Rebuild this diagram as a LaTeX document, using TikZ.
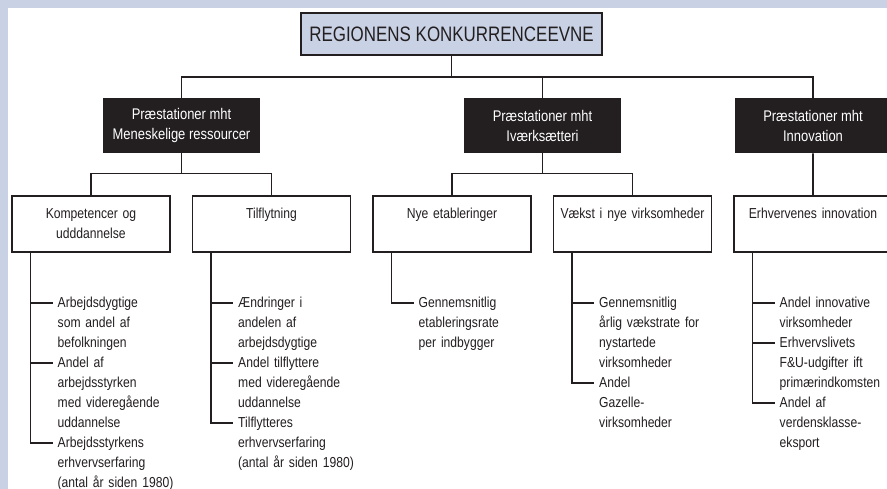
\documentclass[tikz,border=0pt]{standalone}
\usepackage{fontspec}
\setmainfont{Liberation Sans}[FakeStretch=0.84]
\newfontfamily\headfont{Liberation Sans}[FakeStretch=0.81]
\usepackage{xcolor}
\usetikzlibrary{positioning}

\definecolor{frameblue}{HTML}{C9D2E5}
\definecolor{inkdark}{HTML}{231F20}

\begin{document}
\begin{tikzpicture}[
    x=1bp, y=-1bp,
    every node/.style={text=inkdark},
    title/.style={draw=inkdark, line width=1.8bp, fill=frameblue,
      minimum width=301bp, minimum height=42bp,
      font=\headfont\fontsize{21}{24}\selectfont},
    area/.style={fill=inkdark, text=white, align=center, minimum width=157bp,
      minimum height=55bp, font=\fontsize{15.5}{20}\selectfont},
    topic/.style={draw=inkdark, line width=1.6bp, fill=white, align=center,
      text width=150bp, minimum width=158bp, minimum height=56bp,
      inner xsep=4bp, inner ysep=0pt, outer sep=0pt,
      font=\fontsize{14.5}{20}\selectfont,
      execute at begin node=\strut, execute at end node=\strut},
    item/.style={anchor=north west, align=left, text width=125bp,
      inner xsep=5bp, inner ysep=0pt,
      font=\fontsize{14.5}{20}\selectfont,
      execute at begin node=\strut, execute at end node=\strut},
    link/.style={draw=inkdark, line width=1.6bp}
  ]
  \useasboundingbox (0,0) rectangle (887,489);
  \fill[frameblue] (0,0) rectangle (887,489);
  \fill[white] (8,8) rectangle (900,500);

  % top and the three areas
  \node[title] (region) at (451.5,34) {REGIONENS KONKURRENCEEVNE};
  \node[area] (human) at (181.5,125.75) {Præstationer mht\\Meneskelige ressourcer};
  \node[area] (entre) at (542.5,125.75) {Præstationer mht\\Iværksætteri};
  \node[area] (innov) at (813,125.75) {Præstationer mht\\Innovation};

  % topics
  \node[topic] (skills) at (91,224.25) {Kompetencer og\\udddannelse};
  \node[topic, right=22.5bp of skills] (migration) {Tilflytning\\};
  \node[topic, right=22.5bp of migration] (startups) {Nye etableringer\\};
  \node[topic, right=22.5bp of startups] (growth) {Vækst i nye virksomheder\\};
  \node[topic, right=22.5bp of growth] (inno) {Erhvervenes innovation\\};

  \coordinate[below=21bp of region] (split);
  \coordinate[below=20bp of human] (humansplit);
  \coordinate[below=20bp of entre] (entresplit);

  \draw[link] (region) -- (split);
  \foreach \g in {human, entre, innov}
    \draw[link] (split) -| (\g.north);
  \draw[link] (human) -- (humansplit);
  \draw[link] (entre) -- (entresplit);
  \foreach \t in {skills, migration}
    \draw[link] (humansplit) -| (\t.north);
  \foreach \t in {startups, growth}
    \draw[link] (entresplit) -| (\t.north);
  \draw[link] (innov) -- (inno);

  % indicators
  \foreach \t in {skills, migration, startups, growth, inno}
    \coordinate[right=18.5bp of \t.south west] (\t-t);

  \node[below right=41bp and 22bp of skills-t, item] (skills1)
    {Arbejdsdygtige\\som andel af\\befolkningen};
  \node[item] (skills2) at (skills1.south west)
    {Andel af\\arbejdsstyrken\\med videregående\\uddannelse};
  \node[item] (skills3) at (skills2.south west)
    {Arbejdsstyrkens\\erhvervserfaring\\(antal år siden 1980)};

  \node[below right=41bp and 22bp of migration-t, item] (migration1)
    {Ændringer i\\andelen af\\arbejdsdygtige};
  \node[item] (migration2) at (migration1.south west)
    {Andel tilflyttere\\med videregående\\uddannelse};
  \node[item] (migration3) at (migration2.south west)
    {Tilflytteres\\erhvervserfaring\\(antal år siden 1980)};

  \node[below right=41bp and 22bp of startups-t, item] (startups1)
    {Gennemsnitlig\\etableringsrate\\per indbygger};

  \node[below right=41bp and 22bp of growth-t, item] (growth1)
    {Gennemsnitlig\\årlig vækstrate for\\nystartede\\virksomheder};
  \node[item] (growth2) at (growth1.south west)
    {Andel\\Gazelle-\\virksomheder};

  \node[below right=41bp and 22bp of inno-t, item] (inno1)
    {Andel innovative\\virksomheder};
  \node[item] (inno2) at (inno1.south west)
    {Erhvervslivets\\F\&U-udgifter ift\\primærindkomsten};
  \node[item] (inno3) at (inno2.south west)
    {Andel af\\verdensklasse-\\eksport};

  \foreach \t/\k in {skills/3, migration/3, startups/1, growth/2, inno/3}
    \foreach \i in {1,...,\k}
      \draw[link] (\t-t) |- ([yshift=-9.5bp]\t\i.north west);
\end{tikzpicture}
\end{document}
